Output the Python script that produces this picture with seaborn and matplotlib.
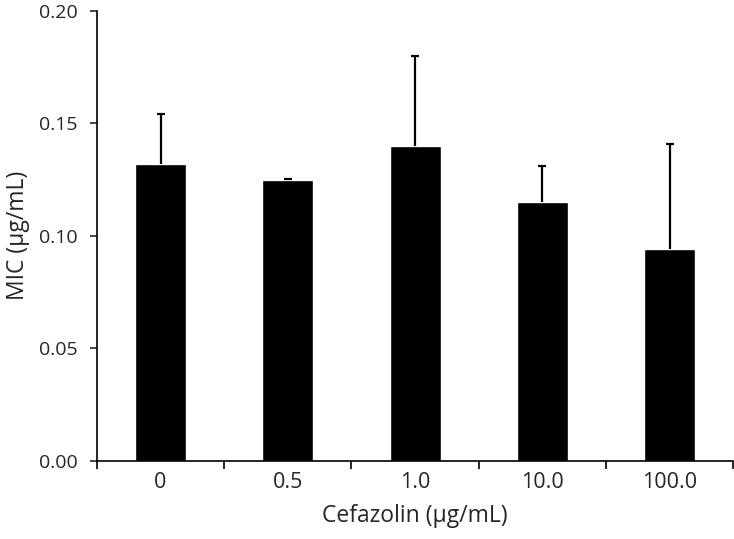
import numpy as np
import pandas as pd
import matplotlib
matplotlib.use("Agg")
import matplotlib.pyplot as plt
from matplotlib.ticker import FixedLocator, FormatStrFormatter
import seaborn as sns

# data
doses = ["0", "0.5", "1.0", "10.0", "100.0"]
mic_mean = [0.132, 0.125, 0.140, 0.115, 0.094]
mic_sd = [0.022, 0.0004, 0.040, 0.016, 0.047]

OUTPUT = "out.png"


def main():
    sns.set_style("ticks")
    plt.rcParams["font.family"] = ["Open Sans", "DejaVu Sans"]

    df = pd.DataFrame({"dose": doses, "mic": mic_mean})

    fig = plt.figure(figsize=(7.34, 5.39), dpi=100)
    ax = fig.add_axes([0.132, 0.145, 0.867, 0.835])

    sns.barplot(data=df, x="dose", y="mic", color="black", width=0.4,
                errorbar=None, saturation=1, ax=ax)

    # only the upper half of the error bar, like the original
    _, caps, _ = ax.errorbar(np.arange(len(doses)), mic_mean,
                             yerr=[np.zeros(len(doses)), mic_sd],
                             fmt="none", ecolor="black", elinewidth=1.6,
                             capsize=3, capthick=1.6)
    caps[0].set_visible(False)

    ax.set_xlim(-0.5, len(doses) - 0.5)
    ax.set_ylim(0, 0.20)
    ax.set_yticks([0.0, 0.05, 0.10, 0.15, 0.20])
    ax.yaxis.set_major_formatter(FormatStrFormatter("%.2f"))

    # tick marks between categories, labels under the bars
    ax.xaxis.set_minor_locator(FixedLocator(np.arange(-0.5, len(doses), 1.0)))
    ax.tick_params(axis="x", which="major", length=0, pad=8, labelsize=15.5)
    ax.tick_params(axis="x", which="minor", length=6, width=1.2, color="black")
    ax.tick_params(axis="y", length=5, width=1.2, labelsize=14, pad=9)

    ax.set_xlabel("Cefazolin (μg/mL)", fontsize=16.5, labelpad=8)
    ax.set_ylabel("MIC (μg/mL)", fontsize=16.5, labelpad=6)

    sns.despine(ax=ax)
    for s in ["left", "bottom"]:
        ax.spines[s].set_linewidth(1.2)
        ax.spines[s].set_color("black")

    fig.savefig(OUTPUT, dpi=100)


if __name__ == "__main__":
    main()
